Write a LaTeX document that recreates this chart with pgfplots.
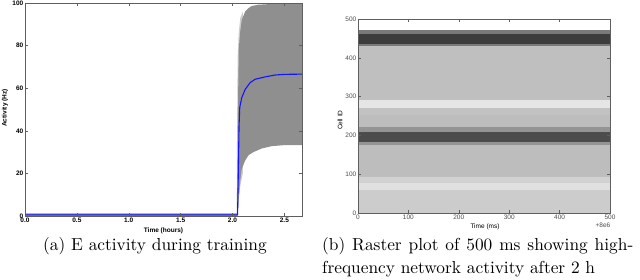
\documentclass[border=0pt]{standalone}
\usepackage{pgfplots}
\pgfplotsset{compat=1.18}
\usepackage{fontspec}
\usepackage{graphicx}
\setsansfont{Liberation Sans}
\newcommand{\tf}{\sffamily\fontsize{6.5}{7}\selectfont}
\newcommand{\tfb}{\sffamily\bfseries\fontsize{6.5}{7}\selectfont}
\definecolor{bandgray}{RGB}{143,143,143}
\definecolor{lightband}{RGB}{205,205,205}
\definecolor{framecol}{RGB}{95,95,95}
\definecolor{mplblue}{RGB}{20,20,255}
\begin{document}
\begin{tikzpicture}
\useasboundingbox (0,0) rectangle (640pt,280pt);
% ---------------- (a) ----------------
\begin{axis}[
  at={(25pt,64pt)}, anchor=south west,
  scale only axis, width=277pt, height=213pt,
  xmin=0, xmax=2.67, ymin=0, ymax=100,
  xtick={0,0.5,1,1.5,2,2.5}, xticklabels={\tfb 0.0,\tfb 0.5,\tfb 1.0,\tfb 1.5,\tfb 2.0,\tfb 2.5},
  ytick={0,20,40,60,80,100}, yticklabels={\tfb 0,\tfb 20,\tfb 40,\tfb 60,\tfb 80,\tfb 100},
  tick align=inside, major tick length=3pt,
  axis line style={framecol}, every tick/.style={framecol},
  axis on top=true,
  tick label style={font=\tfb, inner sep=1.5pt},
  xlabel={\tfb Time (hours)}, ylabel={\tfb Activity (Hz)},
  label style={font=\tfb},
  every axis x label/.style={at={(axis description cs:0.5,-0.07)},anchor=center},
  every axis y label/.style={at={(axis description cs:-0.072,0.507)},anchor=center,rotate=90},
]
% light error-bar fringe
\addplot[draw=none, fill=lightband] coordinates {
  (2.040,1) (2.044,40) (2.050,75) (2.060,86) (2.075,93) (2.10,96) (2.10,20) (2.075,14) (2.060,8) (2.050,3) (2.044,0.5)
} -- cycle;
% std band
\addplot[draw=none, fill=bandgray] coordinates {
  (0,0) (0,1.2) (2.045,1.2) (2.050,40) (2.060,78) (2.073,86) (2.089,92) (2.122,96) (2.154,97.6) (2.186,98.6) (2.25,99.2) (2.4,99.6) (2.67,99.8)
  (2.67,33.3) (2.507,33.3) (2.379,32.8) (2.282,31.7) (2.202,30) (2.154,28.5) (2.122,26) (2.089,22) (2.073,16) (2.060,8) (2.052,2) (2.050,0)
} -- cycle;
% mean
\addplot[mplblue, line width=1.1pt] coordinates {
  (0,0.5) (1.0,0.5) (2.049,0.5) (2.056,20) (2.063,42) (2.070,51) (2.089,55.5) (2.122,59.4) (2.170,62.6) (2.218,64.2) (2.314,65.3) (2.411,66.2) (2.507,66.5) (2.67,66.6)
};
\end{axis}
% ---------------- (b) ----------------
\begin{axis}[
  at={(358pt,67pt)}, anchor=south west,
  scale only axis, width=252pt, height=194pt,
  xmin=0, xmax=500, ymin=0, ymax=500,
  xtick={0,100,200,300,400,500}, xticklabels={\tf 0,\tf 100,\tf 200,\tf 300,\tf 400,\tf 500},
  ytick={0,100,200,300,400,500}, yticklabels={\tf 0,\tf 100,\tf 200,\tf 300,\tf 400,\tf 500},
  tick align=inside, major tick length=3pt,
  axis line style={framecol}, every tick/.style={framecol},
  axis on top=true,
  tick label style={font=\tf, inner sep=1.5pt, text=black!70},
  xlabel={\tf Time (ms)}, ylabel={\tf Cell ID},
  label style={font=\tf, text=black!70},
  every axis x label/.style={at={(axis description cs:0.504,-0.072)},anchor=center},
  every axis y label/.style={at={(axis description cs:-0.071,0.479)},anchor=center,rotate=90},
]
\addplot[draw=none, fill=black!20] coordinates {(0,0) (500,0) (500,60) (0,60)} -- cycle;
\addplot[draw=none, fill=black!12] coordinates {(0,60) (500,60) (500,78) (0,78)} -- cycle;
\addplot[draw=none, fill=black!18] coordinates {(0,78) (500,78) (500,93) (0,93)} -- cycle;
\addplot[draw=none, fill=black!26] coordinates {(0,93) (500,93) (500,175) (0,175)} -- cycle;
\addplot[draw=none, fill=black!42] coordinates {(0,175) (500,175) (500,182) (0,182)} -- cycle;
\addplot[draw=none, fill=black!70] coordinates {(0,182) (500,182) (500,208) (0,208)} -- cycle;
\addplot[draw=none, fill=black!42] coordinates {(0,208) (500,208) (500,222) (0,222)} -- cycle;
\addplot[draw=none, fill=black!26] coordinates {(0,222) (500,222) (500,252) (0,252)} -- cycle;
\addplot[draw=none, fill=black!24] coordinates {(0,252) (500,252) (500,270) (0,270)} -- cycle;
\addplot[draw=none, fill=black!10] coordinates {(0,270) (500,270) (500,291) (0,291)} -- cycle;
\addplot[draw=none, fill=black!25] coordinates {(0,291) (500,291) (500,430) (0,430)} -- cycle;
\addplot[draw=none, fill=black!52] coordinates {(0,430) (500,430) (500,436) (0,436)} -- cycle;
\addplot[draw=none, fill=black!76] coordinates {(0,436) (500,436) (500,462) (0,462)} -- cycle;
\addplot[draw=none, fill=black!52] coordinates {(0,462) (500,462) (500,471) (0,471)} -- cycle;
\end{axis}
\node[text=black!70, anchor=center, inner sep=0pt] at (603pt,55pt) {\tf +8e6};
% ---------------- captions ----------------
\node[anchor=base, inner sep=0pt] at (155pt,29pt) {\scalebox{1.735}{\rmfamily (a) E activity during training}};
\node[anchor=base west, inner sep=0pt] at (322pt,29pt) {\scalebox{1.735}{\parbox[t]{179.3pt}{\rmfamily\fontsize{10}{12.7}\selectfont (b) Raster plot of 500 ms showing high-\linebreak frequency network activity after 2 h}}};
\end{tikzpicture}
\end{document}
